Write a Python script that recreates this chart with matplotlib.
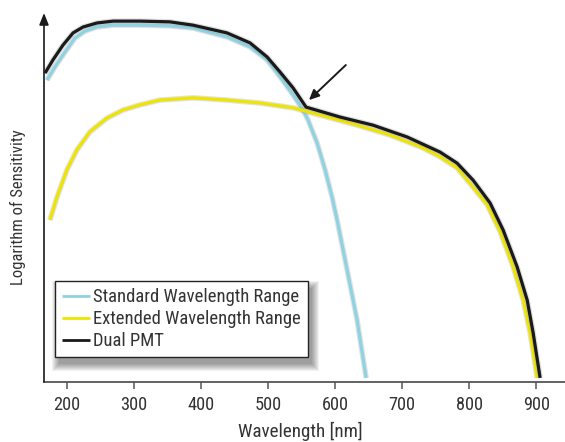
import matplotlib
matplotlib.use("Agg")
import matplotlib.pyplot as plt
import matplotlib.patheffects as pe
from matplotlib import font_manager as fm
from matplotlib.font_manager import FontProperties
from matplotlib.patches import Rectangle

# Wavelength (nm) and relative log-sensitivity (0 = axis floor, 100 = axis top)
std_nm = [170.1, 182.1, 197.0, 211.9, 226.9, 244.8, 268.7, 309.0, 353.7, 388.1,
          438.8, 473.1, 498.5, 517.9, 537.3, 552.2, 559.7, 573.1, 585.1, 595.5,
          603.0, 617.9, 632.8, 646.3]
std_val = [81.8, 85.4, 89.4, 93.2, 95.1, 96.2, 96.7, 96.7, 96.5, 95.9,
           93.5, 90.8, 87.3, 82.7, 77.8, 73.7, 71.0, 64.8, 57.5, 50.1,
           43.9, 30.4, 16.8, 1.1]

ext_nm = [174.6, 185.1, 200.0, 214.9, 234.3, 259.7, 283.6, 309.0, 338.8, 388.1,
          438.8, 488.1, 537.3, 582.1, 632.8, 682.1, 731.3, 756.7, 782.1, 805.9,
          826.9, 846.3, 865.7, 880.6, 891.0, 901.5]
ext_val = [43.9, 50.1, 57.5, 62.9, 67.8, 71.5, 73.7, 75.1, 76.4, 77.0,
           76.4, 75.6, 74.3, 72.1, 69.6, 66.9, 63.4, 61.0, 58.0, 52.8,
           48.0, 40.7, 31.2, 22.2, 13.3, 1.1]

dual_nm = [167.2, 179.1, 194.0, 209.0, 223.9, 244.8, 268.7, 309.0, 353.7, 388.1,
           438.8, 473.1, 498.5, 517.9, 537.3, 556.7, 607.5, 656.7, 707.5, 756.7,
           782.1, 805.9, 831.3, 850.7, 871.6, 886.6, 895.5, 905.9]
dual_val = [83.7, 87.3, 91.3, 94.6, 96.2, 97.3, 97.8, 97.8, 97.6, 96.7,
            94.6, 91.9, 88.1, 84.0, 79.7, 74.5, 71.8, 69.6, 66.4, 62.3,
            59.3, 54.7, 48.5, 41.2, 31.2, 22.2, 13.3, 1.1]

x_ticks = [200, 300, 400, 500, 600, 700, 800, 900]
series_labels = ["Standard Wavelength Range", "Extended Wavelength Range", "Dual PMT"]
colors = ["#8dd3e2", "#ede500", "#1a1a1a"]
text_color = "#333333"


def pick_narrow_font():
    """Return a regular-weight condensed sans font file if one is installed."""
    best = None
    for f in fm.fontManager.ttflist:
        name = f.name.lower()
        fname = f.fname.lower()
        if f.style != "normal" or f.weight not in (400, "normal", "regular"):
            continue
        if "bold" in fname or "italic" in fname or "oblique" in fname:
            continue
        narrow = ("narrow" in name or "condensed" in name or "narrow" in fname
                  or "condensed" in fname or str(f.stretch) in ("condensed", "semi-condensed"))
        if narrow and "extra" not in fname and "semi" not in fname:
            rank = 0 if "liberation" in name else 1 if "roboto" in name else 2
            if best is None or rank < best[0]:
                best = (rank, f.fname)
    if best:
        return FontProperties(fname=best[1])
    return FontProperties(family=["Roboto", "DejaVu Sans"])


base_fp = pick_narrow_font()

W, H = 565, 442
fig = plt.figure(figsize=(W / 100, H / 100), dpi=100)
ax = fig.add_axes([44 / W, 1 - 382 / H, (W - 44) / W, (382 - 13) / H])
ax.set_xlim(165.7, 943)
ax.set_ylim(0, 100)
renderer = fig.canvas.get_renderer()


def sized(text, target_px):
    """Font properties scaled so that `text` renders target_px wide."""
    fp = base_fp.copy()
    fp.set_size(12)
    t = fig.text(0, 0, text, fontproperties=fp)
    w = t.get_window_extent(renderer).width
    t.remove()
    fp.set_size(12 * target_px / w)
    return fp


fp_tick = sized("400", 27)
fp_xlab = sized("Wavelength [nm]", 124)
fp_ylab = sized("Logarithm of Sensitivity", 155)
fp_leg = sized("Standard Wavelength Range", 206)

halo = [pe.Stroke(linewidth=4.0, foreground="#8a8a8a", alpha=0.25), pe.Normal()]
for xs, ys, c, lab in zip([std_nm, ext_nm, dual_nm], [std_val, ext_val, dual_val],
                          colors, series_labels):
    ax.plot(xs, ys, color=c, lw=2.3, label=lab, solid_joinstyle="round",
            solid_capstyle="butt", path_effects=halo, clip_on=False, zorder=2)

# axes styling
for s in ["top", "right", "left"]:
    ax.spines[s].set_visible(False)
ax.spines["bottom"].set_color("#555555")
ax.spines["bottom"].set_linewidth(1.3)
ax.set_xticks(x_ticks)
ax.set_yticks([])
ax.tick_params(axis="x", direction="out", length=5, width=1.1, color="#555555",
               labelcolor=text_color, pad=5)
for lbl in ax.get_xticklabels():
    lbl.set_fontproperties(fp_tick)

# vertical axis drawn as an arrow
ax.annotate("", xy=(0, 1), xytext=(0, 0), xycoords="axes fraction",
            textcoords="axes fraction",
            arrowprops=dict(arrowstyle="-|>,head_length=0.7,head_width=0.28",
                            lw=1.2, color="#1a1a1a", shrinkA=0, shrinkB=0),
            annotation_clip=False)

fig.text(300 / W, 1 - 431 / H, "Wavelength [nm]", ha="center", va="center",
         fontproperties=fp_xlab, color=text_color)
fig.text(18 / W, 1 - 207 / H, "Logarithm of Sensitivity", ha="center", va="center",
         rotation=90, fontproperties=fp_ylab, color=text_color)

# pointer to the crossover point
ax.annotate("", xy=(561, 76.4), xytext=(616, 85.9),
            arrowprops=dict(arrowstyle="-|>,head_length=0.6,head_width=0.28",
                            lw=1.4, color="#1a1a1a", shrinkA=0, shrinkB=0))

leg = ax.legend(loc="upper left", bbox_to_anchor=(11 / 521, (382 - 281) / 369),
                borderaxespad=0, frameon=True, fancybox=False, prop=fp_leg,
                handlelength=1.5, handletextpad=0.15, labelspacing=0.22,
                borderpad=0.38, framealpha=1)
leg.get_frame().set_edgecolor("#222222")
leg.get_frame().set_linewidth(1.0)
leg.set_zorder(5)
for ln in leg.get_lines():
    ln.set_path_effects([])
    ln.set_linewidth(2.0)
for t in leg.get_texts():
    t.set_color(text_color)

# soft drop shadow behind the legend box
fig.canvas.draw()
bb = leg.get_frame().get_window_extent()
for i in range(8):
    g = i * 1.0
    ax.add_patch(Rectangle((bb.x0 + 4 - g, bb.y0 - 7 - g),
                           bb.width + 2 * g, bb.height + 2 * g,
                           transform=None, facecolor="black", edgecolor="none",
                           alpha=0.055, zorder=4, clip_on=False))

fig.savefig("out.png", dpi=100)
